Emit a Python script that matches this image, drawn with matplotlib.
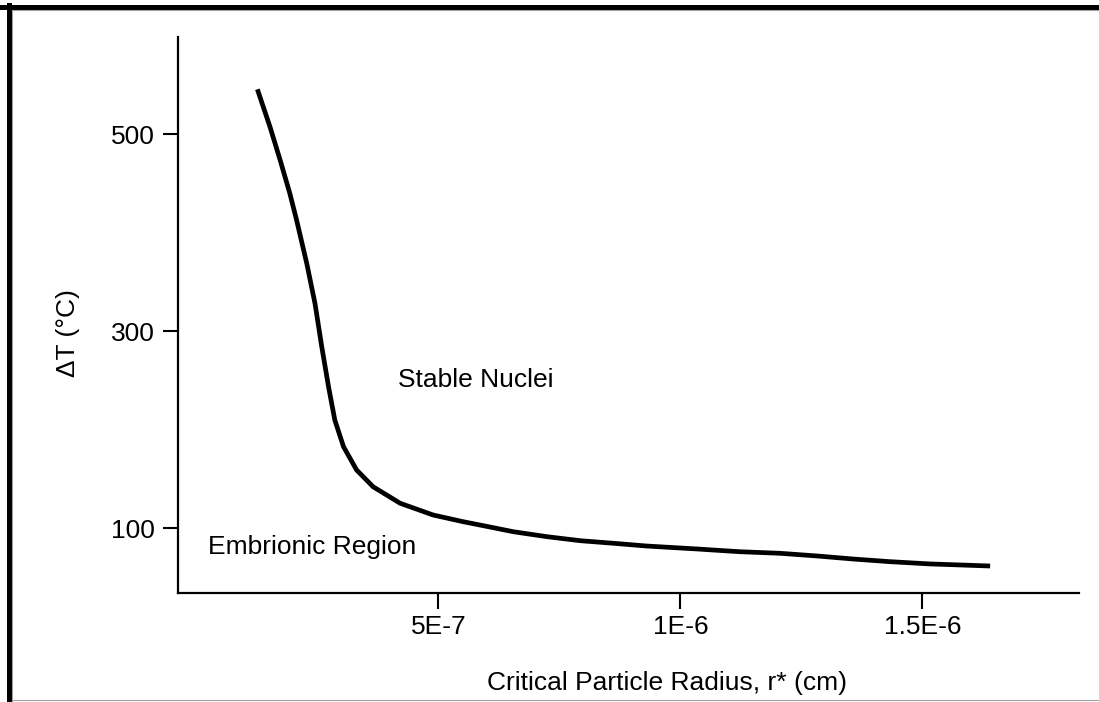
import matplotlib
matplotlib.use("Agg")
import matplotlib.pyplot as plt
from matplotlib.lines import Line2D

# critical radius r* (units of 1E-6 cm) and undercooling dT (C)
radius = [0.126, 0.152, 0.173, 0.193, 0.207, 0.228, 0.245, 0.259, 0.273, 0.286,
          0.304, 0.331, 0.365, 0.421, 0.489, 0.551, 0.586, 0.655, 0.724, 0.793,
          0.861, 0.930, 1.034, 1.123, 1.206, 1.282, 1.357, 1.433, 1.516, 1.640]
delta_t = [545.5, 507.5, 473.7, 439.9, 412.8, 368.8, 328.2, 284.2, 243.6, 209.7,
           182.6, 159.0, 142.0, 125.2, 113.3, 106.5, 103.1, 96.3, 91.3, 87.2,
           84.6, 81.8, 78.8, 76.0, 74.4, 71.7, 68.6, 65.9, 63.6, 61.5]

x_ticks = [0.5, 1.0, 1.5]
x_tick_labels = ["5E-7", "1E-6", "1.5E-6"]
y_ticks = [100, 300, 500]

plt.rcParams['font.family'] = ['Liberation Sans', 'DejaVu Sans']

fig = plt.figure(figsize=(10.99, 7.02), dpi=100)
ax = fig.add_axes([0.1617, 0.1557, 0.8201, 0.7916])

ax.plot(radius, delta_t, color='black', lw=3.4, solid_capstyle='butt', solid_joinstyle='round')

ax.set_xlim(-0.0386, 1.8236)
ax.set_ylim(34.4, 598.6)
ax.set_xticks(x_ticks)
ax.set_xticklabels(x_tick_labels)
ax.set_yticks(y_ticks)

for side in ['top', 'right']:
    ax.spines[side].set_visible(False)
for side in ['left', 'bottom']:
    ax.spines[side].set_linewidth(1.6)

ax.tick_params(axis='both', direction='out', width=1.5, labelsize=19, colors='black')
ax.tick_params(axis='y', length=10.5, pad=6)
ax.tick_params(axis='x', length=11.5, pad=4.5)

ax.set_xlabel("Critical Particle Radius, r* (cm)", fontsize=19, va='baseline')
ax.xaxis.set_label_coords(0.5434, -0.175)
ax.set_ylabel("ΔT (°C)", fontsize=19, va='center')
ax.yaxis.set_label_coords(-0.1214, 0.4664)

ax.text(0.417, 243.6, "Stable Nuclei", fontsize=19, va='baseline', ha='left')
ax.text(0.0246, 73.7, "Embrionic Region", fontsize=19, va='baseline', ha='left')

# window frame around the picture
fig.add_artist(Line2D([0, 1], [0.9900, 0.9900], transform=fig.transFigure, color='black', lw=3.6))
fig.add_artist(Line2D([0.0082, 0.0082], [0, 0.9925], transform=fig.transFigure, color='black', lw=3.6))
fig.add_artist(Line2D([0.0105, 1], [0.9862, 0.9862], transform=fig.transFigure, color='#a0a0a0', lw=0.8))
fig.add_artist(Line2D([0.0105, 0.0105], [0, 0.9862], transform=fig.transFigure, color='#a0a0a0', lw=0.8))
fig.add_artist(Line2D([0.0105, 1], [0.0028, 0.0028], transform=fig.transFigure, color='#a0a0a0', lw=0.8))

fig.savefig("out.png", dpi=100)
